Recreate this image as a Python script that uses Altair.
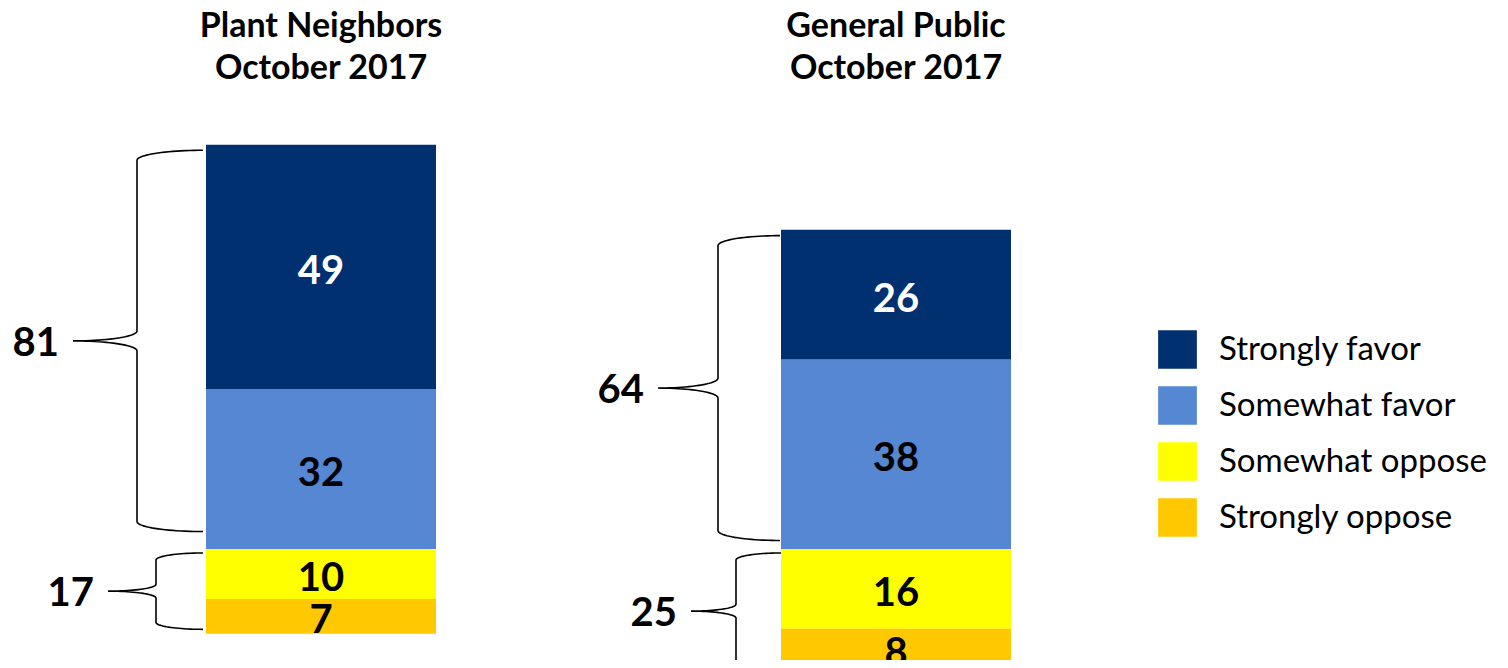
import altair as alt
import pandas as pd
import numpy as np

# ---------------- data ----------------
groups = ["Plant Neighbors", "General Public"]
survey_date = "October 2017"
categories = ["Strongly favor", "Somewhat favor", "Somewhat oppose", "Strongly oppose"]
strongly_favor = [49, 26]
somewhat_favor = [32, 38]
somewhat_oppose = [10, 16]
strongly_oppose = [7, 8]
favor_totals = [81, 64]
oppose_totals = [17, 25]

# ---------------- styles / layout ----------------
colors = ["#003070", "#5587D2", "#FFFF00", "#FFC800"]
W, H = 1492, 652
PX_PER_UNIT = 4.99
BASE_Y = 541
Y_MAX = BASE_Y / PX_PER_UNIT
Y_MIN = -(H - BASE_Y) / PX_PER_UNIT
BAR_CENTER = [313, 888]
BAR_W = 230
FONT = "Lato"

xs = alt.Scale(domain=[0, W], range=[0, W], nice=False, zero=False)
ys = alt.Scale(domain=[Y_MIN, Y_MAX], nice=False, zero=False)

# ---------------- bar segments ----------------
rows = []
for i, g in enumerate(groups):
    left = BAR_CENTER[i] - BAR_W / 2
    right = BAR_CENTER[i] + BAR_W / 2
    sf, stf = somewhat_favor[i], strongly_favor[i]
    so, sto = somewhat_oppose[i], strongly_oppose[i]
    segs = [
        ("Somewhat favor", sf, 0, sf),
        ("Strongly favor", stf, sf, sf + stf),
        ("Somewhat oppose", so, 0, -so),
        ("Strongly oppose", sto, -so, -(so + sto)),
    ]
    for cat, v, a, b in segs:
        rows.append(dict(group=g, category=cat, value=v, x0=left, x1=right,
                         xc=BAR_CENTER[i], y0=a, y1=b, ym=(a + b) / 2))
bars_df = pd.DataFrame(rows)

bars = alt.Chart(bars_df).mark_rect(clip=True).encode(
    x=alt.X("x0:Q", scale=xs, axis=None),
    x2="x1:Q",
    y=alt.Y("y0:Q", scale=ys, axis=None),
    y2="y1:Q",
    color=alt.Color(
        "category:N",
        scale=alt.Scale(domain=categories, range=colors),
        sort=categories,
        legend=alt.Legend(
            title=None, orient="none", legendX=1150, legendY=322,
            symbolType="square", symbolSize=1500, symbolStrokeWidth=0,
            symbolOpacity=1, labelFont=FONT, labelFontSize=33,
            labelColor="black", labelOffset=22, rowPadding=17, padding=0,
            labelLimit=400,
        ),
    ),
)

seg_text = alt.Chart(bars_df).mark_text(
    font=FONT, fontSize=40, fontWeight="bold", baseline="middle", dy=5, clip=True
).encode(
    x=alt.X("xc:Q", scale=xs),
    y=alt.Y("ym:Q", scale=ys),
    text="value:Q",
    fill=alt.condition(alt.datum.category == "Strongly favor",
                       alt.value("white"), alt.value("black")),
)

# ---------------- braces ----------------
brace_layout = {
    (0, "favor"): dict(end=-3, vert=-69, tip=-133, r=10, top_in=1.1, bot_in=3.5),
    (1, "favor"): dict(end=-1, vert=-63, tip=-123, r=10, top_in=1.2, bot_in=1.7),
    (0, "oppose"): dict(end=-3, vert=-50, tip=-98, r=7, top_in=0.8, bot_in=0.9),
    (1, "oppose"): dict(end=0, vert=-45, tip=-90, r=7, top_in=0.8, bot_in=-0.1),
}
n = 24
pts = []
labels = []
for i, g in enumerate(groups):
    left = BAR_CENTER[i] - BAR_W / 2
    for side in ["favor", "oppose"]:
        L = brace_layout[(i, side)]
        if side == "favor":
            yt = somewhat_favor[i] + strongly_favor[i] - L["top_in"]
            yb = 0 + L["bot_in"]
            total = favor_totals[i]
        else:
            yt = 0 - L["top_in"]
            yb = -(somewhat_oppose[i] + strongly_oppose[i]) + L["bot_in"]
            total = oppose_totals[i]
        xe, xv, xt = left + L["end"], left + L["vert"], left + L["tip"]
        r = L["r"] / PX_PER_UNIT
        ym = (yt + yb) / 2
        path = []
        t = np.linspace(0, np.pi / 2, n)
        path += [(xe - (xe - xv) * np.sin(a), yt - r + r * np.cos(a)) for a in t]
        path += [(xt + (xv - xt) * np.cos(a), ym + r - r * np.sin(a)) for a in t]
        path += [(xt + (xv - xt) * np.cos(a), ym - r + r * np.sin(a)) for a in t[::-1]]
        path += [(xe - (xe - xv) * np.sin(a), yb + r - r * np.cos(a)) for a in t[::-1]]
        bid = f"{g}-{side}"
        for k, (px, py) in enumerate(path):
            pts.append(dict(brace=bid, k=k, bx=px, by=py))
        labels.append(dict(brace=bid, lx=xt - 14, ly=ym, total=total))
brace_df = pd.DataFrame(pts)
lab_df = pd.DataFrame(labels)

braces = alt.Chart(brace_df).mark_line(
    color="black", strokeWidth=1.6, clip=True
).encode(
    x=alt.X("bx:Q", scale=xs),
    y=alt.Y("by:Q", scale=ys),
    detail="brace:N",
    order="k:Q",
)

totals = alt.Chart(lab_df).mark_text(
    font=FONT, fontSize=40, fontWeight="bold", align="right",
    baseline="middle", dy=3, color="black"
).encode(
    x=alt.X("lx:Q", scale=xs),
    y=alt.Y("ly:Q", scale=ys),
    text="total:Q",
)

# ---------------- titles ----------------
title_df = pd.DataFrame({
    "title": [f"{g}\n{survey_date}" for g in groups],
    "tx": BAR_CENTER,
})
titles = alt.Chart(title_df).mark_text(
    font=FONT, fontSize=34, fontWeight="bold", align="center",
    baseline="alphabetic", lineBreak="\n", lineHeight=42, color="black"
).encode(
    x=alt.X("tx:Q", scale=xs),
    y=alt.value(29),
    text="title:N",
)

chart = alt.layer(bars, seg_text, braces, totals, titles).properties(
    width=W, height=H, padding=0, autosize="none"
).configure_view(stroke=None)

chart.save("out.html", embed_options={"renderer": "svg", "actions": False})
